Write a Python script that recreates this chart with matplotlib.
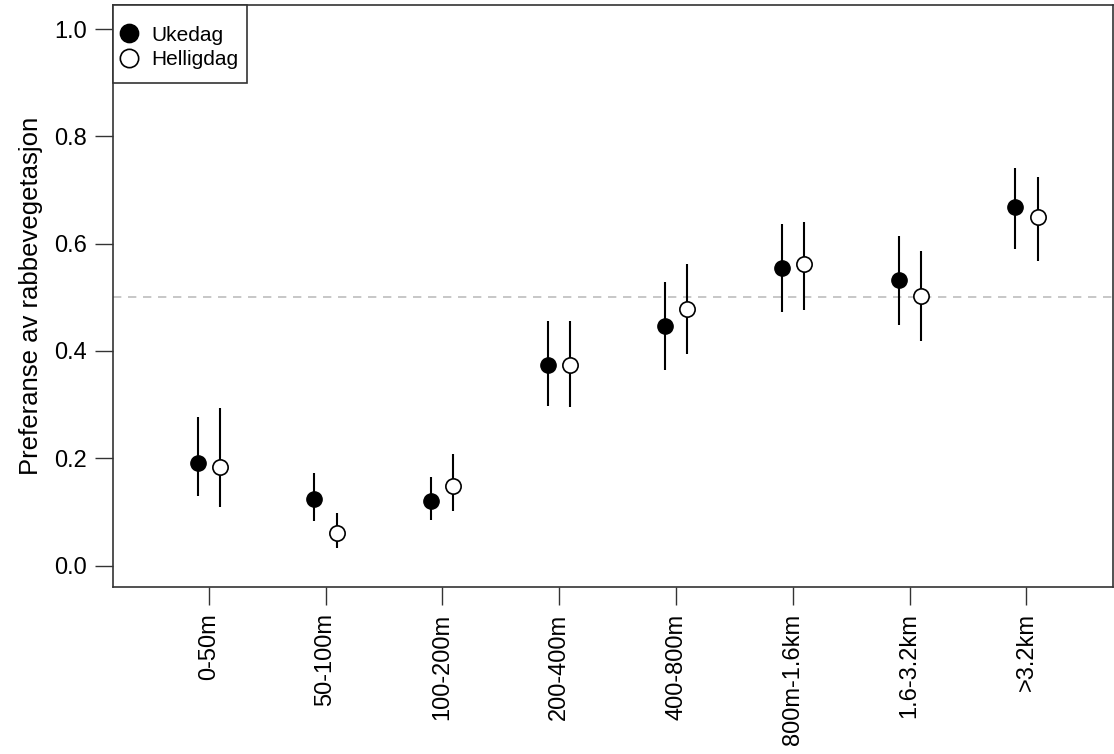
import matplotlib
matplotlib.use("Agg")
import matplotlib.pyplot as plt
from matplotlib.patches import Rectangle
import numpy as np

plt.rcParams['font.family'] = ['Liberation Sans', 'DejaVu Sans']

categories = ["0-50m", "50-100m", "100-200m", "200-400m", "400-800m",
              "800m-1.6km", "1.6-3.2km", ">3.2km"]

ukedag_est = [0.192, 0.124, 0.121, 0.373, 0.447, 0.554, 0.533, 0.669]
ukedag_lo = [0.129, 0.083, 0.084, 0.298, 0.364, 0.472, 0.448, 0.590]
ukedag_hi = [0.276, 0.173, 0.165, 0.455, 0.528, 0.636, 0.614, 0.742]

hellig_est = [0.184, 0.060, 0.148, 0.373, 0.479, 0.562, 0.503, 0.650]
hellig_lo = [0.109, 0.033, 0.102, 0.296, 0.394, 0.477, 0.418, 0.568]
hellig_hi = [0.294, 0.097, 0.207, 0.455, 0.562, 0.641, 0.587, 0.724]

yticks = [0.0, 0.2, 0.4, 0.6, 0.8, 1.0]

W, H = 1114, 754
fig = plt.figure(figsize=(W / 100, H / 100), dpi=100)
ax = fig.add_axes([0.1014, 0.2215, 0.8976, 0.7719])

x = np.arange(1, len(categories) + 1)
off = 0.095

ax.axhline(0.5, color="#BEBEBE", lw=1.2, ls=(0, (5, 4)), zorder=1)

ax.vlines(x - off, ukedag_lo, ukedag_hi, color="black", lw=1.5, zorder=2)
ax.vlines(x + off, hellig_lo, hellig_hi, color="black", lw=1.5, zorder=2)
ax.plot(x - off, ukedag_est, "o", ms=11, mfc="black", mec="black",
        ls="none", label="Ukedag", zorder=3)
ax.plot(x + off, hellig_est, "o", ms=11, mfc="white", mec="black", mew=1.2,
        ls="none", label="Helligdag", zorder=3)

ax.set_xlim(0.18, 8.74)
ax.set_ylim(-0.04, 1.045)
ax.set_xticks(x)
ax.set_xticklabels(categories, rotation=90, fontsize=17)
ax.set_yticks(yticks)
ax.set_yticklabels([f"{v:.1f}" for v in yticks], fontsize=17)
ax.tick_params(axis="both", length=13, width=1.0, color="#333333", pad=6)
ax.set_ylabel("Preferanse av rabbevegetasjon", fontsize=18.5, labelpad=8)

for s in ax.spines.values():
    s.set_color("#333333")
    s.set_linewidth(1.2)

# legend box in the top-left corner of the plot
box = Rectangle((113 / W, 1 - 83 / H), 134 / W, 78 / H,
                transform=fig.transFigure, facecolor="white",
                edgecolor="#333333", lw=1.2, zorder=4, clip_on=False)
ax.add_patch(box)

leg = ax.legend(loc="upper left", bbox_to_anchor=(123.4 / W, 1 - 25.7 / H),
                bbox_transform=fig.transFigure, borderaxespad=0, borderpad=0,
                fontsize=15, frameon=False, handletextpad=0.79,
                handlelength=0.54, labelspacing=0.25, markerscale=1.2)
leg.set_zorder(5)

fig.savefig("out.png", dpi=100)
